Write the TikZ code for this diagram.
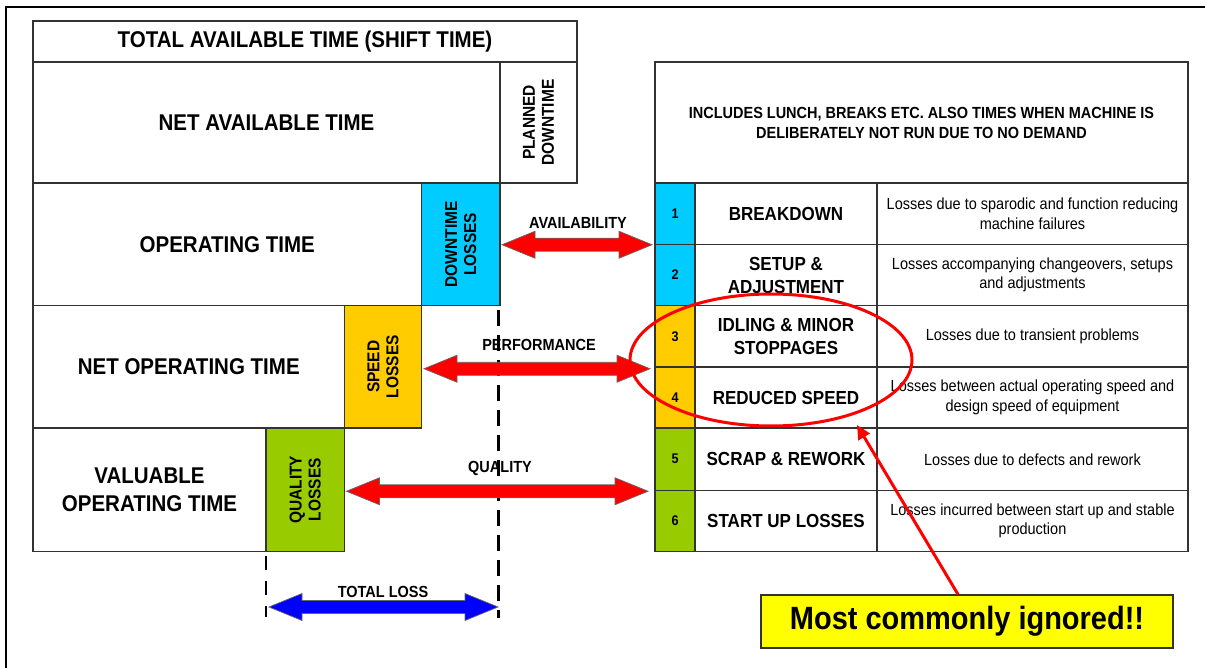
\documentclass[tikz,border=0pt]{standalone}
\usepackage{fontspec}
\setmainfont{Liberation Sans}[FakeStretch=0.9]
\usetikzlibrary{calc,arrows.meta,shapes.geometric}
\definecolor{cyanL}{HTML}{00CCFF}
\definecolor{goldL}{HTML}{FFCC00}
\definecolor{greenL}{HTML}{99CC00}
\definecolor{lineC}{HTML}{333333}
\definecolor{arrowRed}{HTML}{FF0000}
\definecolor{arrowBlue}{HTML}{0000FF}
\definecolor{yellowB}{HTML}{FFFF00}
% name x1 y1 x2 y2 style text
\newcommand\mkcell[7]{%
  \pgfmathsetmacro\cellcx{(#2+#4)/2}%
  \pgfmathsetmacro\cellcy{(#3+#5)/2}%
  \pgfmathsetmacro\cellw{#4-#2}%
  \pgfmathsetmacro\cellh{#5-#3}%
  \node[cellst,#6,minimum width=\cellw pt,minimum height=\cellh pt] (#1) at (\cellcx,\cellcy) {#7};}
% block double arrow: left point, right point, style
\newcommand\harrow[3]{%
  \path[#3] let \p1=(#1), \p2=(#2) in
    (\x1,\y1) -- (\x1+33pt,\y1+13.5pt) -- (\x1+33pt,\y1+6.5pt) -- (\x2-33pt,\y1+6.5pt)
    -- (\x2-33pt,\y1+13.5pt) -- (\x2,\y1) -- (\x2-33pt,\y1-13.5pt) -- (\x2-33pt,\y1-6.5pt)
    -- (\x1+33pt,\y1-6.5pt) -- (\x1+33pt,\y1-13.5pt) -- cycle;}
\begin{document}
\begin{tikzpicture}[x=1pt,y=-1pt,
  cellst/.style={draw=lineC,line width=1.2pt,inner sep=0pt,outer sep=0pt,rectangle,align=center},
  bigf/.style={font=\bfseries\fontsize{22.8}{28}\selectfont},
  rotlbl/.style={font=\bfseries\fontsize{17.2}{19}\selectfont,rotate=90,align=center,inner sep=0pt},
  hdrf/.style={font=\bfseries\fontsize{16.1}{20}\selectfont},
  numf/.style={font=\bfseries\fontsize{14}{15}\selectfont},
  namef/.style={font=\bfseries\fontsize{18.9}{23}\selectfont},
  descf/.style={font=\fontsize{16.1}{19.5}\selectfont},
  arrlbl/.style={font=\bfseries\fontsize{16.1}{17}\selectfont,inner sep=0pt},
  redarrow/.style={fill=arrowRed,draw=black!60,line width=0.7pt},
  bluearrow/.style={fill=arrowBlue,draw=black!60,line width=0.7pt},
  guide/.style={draw=black,line width=3pt,dash pattern=on 16pt off 9pt},
  guidethin/.style={draw=black,line width=2pt,dash pattern=on 14pt off 11pt}]
\useasboundingbox (0,0) rectangle (1205,668);
\fill[white] (0,0) rectangle (1205,668);
% outer frame
\draw[line width=2.5pt] (6,668) -- (6,7) -- (1210,7);
% left block
\mkcell{tat}{33}{21}{577}{62}{bigf}{TOTAL AVAILABLE TIME (SHIFT TIME)}
\mkcell{nat}{33}{62}{500}{183}{bigf}{NET AVAILABLE TIME}
\mkcell{pdt}{500}{62}{577}{183}{}{}
\node[rotlbl] (pdtT) at (pdt.center) {PLANNED\\DOWNTIME};
\mkcell{opt}{33}{183}{421.5}{305.5}{bigf}{OPERATING TIME}
\mkcell{dtl}{421.5}{183}{500}{305.5}{fill=cyanL}{}
\node[rotlbl] (dtlT) at (dtl.center) {DOWNTIME\\LOSSES};
\mkcell{not}{33}{305.5}{344.5}{428}{bigf}{NET OPERATING TIME}
\mkcell{spl}{344.5}{305.5}{421.5}{428}{fill=goldL}{}
\node[rotlbl] (splT) at (spl.center) {SPEED\\LOSSES};
\mkcell{vot}{33}{428}{266}{551.5}{bigf}{VALUABLE\\OPERATING TIME}
\mkcell{qll}{266}{428}{344.5}{551.5}{fill=greenL}{}
\node[rotlbl] (qllT) at (qll.center) {QUALITY\\LOSSES};
% right table
\mkcell{hdr}{655}{62}{1188}{183}{hdrf}{INCLUDES LUNCH, BREAKS ETC. ALSO TIMES WHEN MACHINE IS\\DELIBERATELY NOT RUN DUE TO NO DEMAND}
\mkcell{r1n}{655}{183}{695}{244.5}{numf,fill=cyanL}{1}
\mkcell{r1a}{695}{183}{877}{244.5}{namef}{BREAKDOWN}
\mkcell{r1d}{877}{183}{1188}{244.5}{descf}{Losses due to sparodic and function reducing\\machine failures}
\mkcell{r2n}{655}{244.5}{695}{305.5}{numf,fill=cyanL}{2}
\mkcell{r2a}{695}{244.5}{877}{305.5}{namef}{SETUP \&\\ADJUSTMENT}
\mkcell{r2d}{877}{244.5}{1188}{305.5}{descf}{Losses accompanying changeovers, setups\\and adjustments}
\mkcell{r3n}{655}{305.5}{695}{367}{numf,fill=goldL}{3}
\mkcell{r3a}{695}{305.5}{877}{367}{namef}{IDLING \& MINOR\\STOPPAGES}
\mkcell{r3d}{877}{305.5}{1188}{367}{descf}{Losses due to transient problems}
\mkcell{r4n}{655}{367}{695}{428}{numf,fill=goldL}{4}
\mkcell{r4a}{695}{367}{877}{428}{namef}{REDUCED SPEED}
\mkcell{r4d}{877}{367}{1188}{428}{descf}{Losses between actual operating speed and\\design speed of equipment}
\mkcell{r5n}{655}{428}{695}{490.5}{numf,fill=greenL}{5}
\mkcell{r5a}{695}{428}{877}{490.5}{namef}{SCRAP \& REWORK}
\mkcell{r5d}{877}{428}{1188}{490.5}{descf}{Losses due to defects and rework}
\mkcell{r6n}{655}{490.5}{695}{551.5}{numf,fill=greenL}{6}
\mkcell{r6a}{695}{490.5}{877}{551.5}{namef}{START UP LOSSES}
\mkcell{r6d}{877}{490.5}{1188}{551.5}{descf}{Losses incurred between start up and stable\\production}
% guide lines
\coordinate (gA1) at ($(dtl.south east)+(-2,4.5)$);
\coordinate (gA2) at ($(dtl.south east)+(-2,312.5)$);
\coordinate (gB1) at ($(qll.south west)+(0,4.5)$);
\coordinate (gB2) at ($(qll.south west)+(0,65.5)$);
\draw[guide] (gA1) -- (gA2);
\draw[guidethin] (gB1) -- (gB2);
% block arrows
\coordinate (avL) at ($(dtl.east)+(2,0.5)$);
\coordinate (avR) at ($(r1n.south west)+(-3,0)$);
\coordinate (peL) at ($(spl.east)+(2.5,2)$);
\coordinate (peR) at ($(r3n.south west)+(-5,0)$);
\coordinate (quL) at ($(qll.east)+(2,1.5)$);
\coordinate (quR) at ($(r5n.south west)+(-7,0)$);
\coordinate (tlL) at ($(qll.south west)+(3,55.5)$);
\coordinate (tlR) at (gA2 |- tlL);
\harrow{avL}{avR}{redarrow}
\harrow{peL}{peR}{redarrow}
\harrow{quL}{quR}{redarrow}
\harrow{tlL}{tlR}{bluearrow}
\node[arrlbl] (avT) at (578,223) {AVAILABILITY};
\node[arrlbl] (peT) at (539,345) {PERFORMANCE};
\node[arrlbl] (quT) at (500,468) {QUALITY};
\node[arrlbl] (tlT) at (383,592) {TOTAL LOSS};
% highlight
\node[draw=arrowRed,line width=3pt,ellipse,inner sep=0pt,minimum width=282pt,minimum height=132pt] (ell) at (771,360) {};
\node[draw=lineC,fill=yellowB,line width=1.2pt,inner sep=0pt,minimum width=412pt,minimum height=53pt,
  font=\bfseries\fontsize{32.2}{36}\selectfont] (yb) at (967,621.5) {Most commonly ignored!!};
\coordinate (ptrS) at ($(yb.north)+(-9,0)$);
\coordinate (ptrE) at (857,425);
\draw[arrowRed,line width=3pt,-{Triangle[length=14pt,width=13pt]}] (ptrS) -- (ptrE);
\end{tikzpicture}
\end{document}
